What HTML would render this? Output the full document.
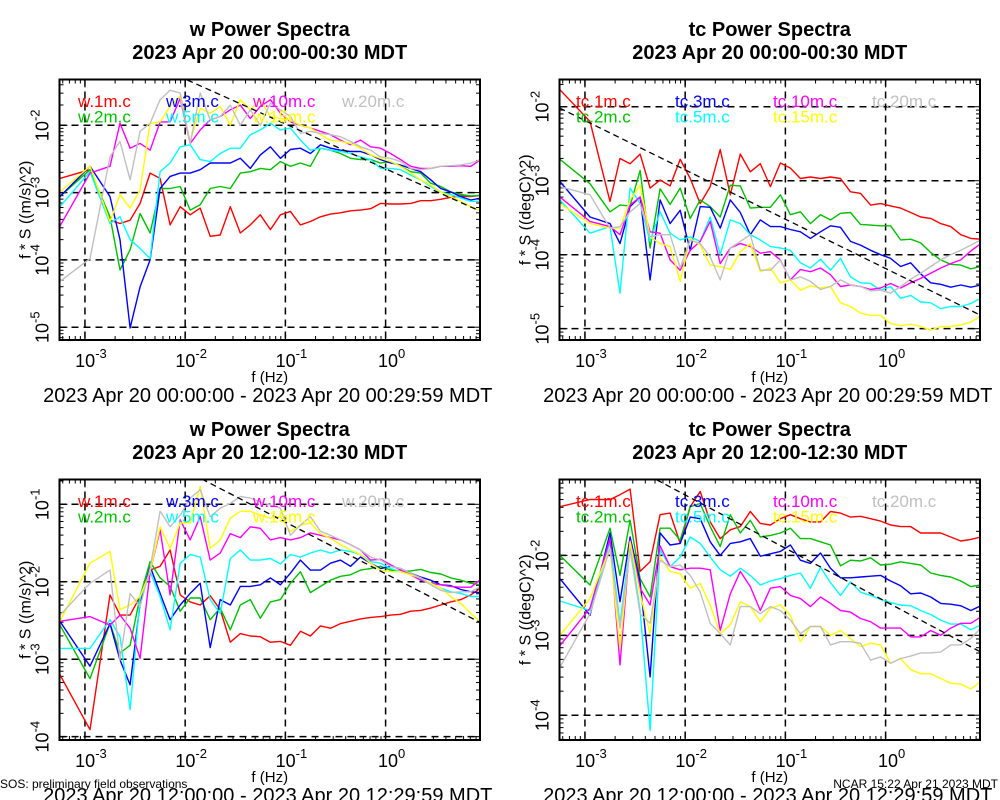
<!DOCTYPE html>
<html><head><meta charset="utf-8"><title>Power Spectra</title>
<style>
html,body{margin:0;padding:0;background:#fff;}
svg{display:block;font-family:"Liberation Sans",sans-serif;}
</style></head>
<body>
<svg id="chart" width="1000" height="800" viewBox="0 0 1000 800" xmlns="http://www.w3.org/2000/svg"></svg>
<script>
// ---- shared frequency categories (log10 Hz) ----
const freqLog = [-3.25,-2.95,-2.75,-2.65,-2.55,-2.45,-2.35,-2.25,-2.15,-2.05,-1.95,-1.85,-1.75,-1.65,-1.55,-1.45,-1.35,-1.25,-1.15,-1.05,-0.95,-0.85,-0.75,-0.65,-0.55,-0.45,-0.35,-0.25,-0.15,-0.05,0.05,0.15,0.25,0.35,0.45,0.55,0.65,0.75,0.85,0.95];
const xTickExps = [-3,-2,-1,0];
const seriesColors = ["#ff0000","#00c000","#0000ff","#00ffff","#ff00ff","#ffff00","#c0c0c0"];
const wNames = ["w.1m.c","w.2m.c","w.3m.c","w.5m.c","w.10m.c","w.15m.c","w.20m.c"];
const tcNames = ["tc.1m.c","tc.2m.c","tc.3m.c","tc.5m.c","tc.10m.c","tc.15m.c","tc.20m.c"];

// ---- top-left: w 00:00-00:30 (log10 values) ----
const wAm1 = [-2.79,-2.66,-3.41,-3.46,-3.41,-3.16,-2.71,-2.79,-3.48,-3.21,-3.33,-3.23,-3.65,-3.63,-3.21,-3.60,-3.48,-3.33,-3.55,-3.33,-3.28,-3.48,-3.43,-3.36,-3.32,-3.30,-3.27,-3.26,-3.24,-3.16,-3.17,-3.17,-3.16,-3.12,-3.12,-3.10,-3.07,-3.05,-3.06,-3.04];
const wAm2 = [-3.06,-2.66,-3.36,-4.15,-3.85,-3.31,-3.60,-2.94,-2.94,-2.91,-3.26,-3.18,-2.94,-2.91,-2.94,-2.71,-2.69,-2.64,-2.66,-2.54,-2.61,-2.56,-2.61,-2.34,-2.37,-2.42,-2.49,-2.51,-2.51,-2.56,-2.54,-2.61,-2.69,-2.71,-2.86,-2.91,-2.99,-3.03,-3.05,-3.04];
const wAm3 = [-3.06,-2.61,-3.06,-3.70,-5.01,-4.40,-4.00,-2.94,-2.76,-2.71,-2.71,-2.66,-2.56,-2.56,-2.56,-2.49,-2.64,-2.44,-2.32,-2.49,-2.36,-2.34,-2.42,-2.29,-2.34,-2.37,-2.39,-2.39,-2.44,-2.51,-2.56,-2.59,-2.64,-2.69,-2.81,-2.94,-2.99,-3.06,-3.11,-3.08];
const wAm5 = [-3.21,-2.69,-3.46,-3.36,-3.70,-3.83,-3.98,-2.69,-2.56,-2.32,-2.29,-2.51,-2.54,-2.42,-2.34,-2.34,-2.14,-2.07,-1.97,-2.07,-2.04,-2.22,-2.37,-2.34,-2.37,-2.39,-2.42,-2.47,-2.51,-2.64,-2.64,-2.66,-2.74,-2.81,-2.91,-2.99,-3.03,-3.08,-3.13,-3.13];
const wAm10 = [-3.50,-2.71,-2.61,-1.97,-2.34,-2.27,-2.37,-1.95,-1.95,-1.60,-2.27,-2.07,-1.92,-1.87,-1.77,-1.70,-1.90,-1.72,-1.62,-1.82,-1.95,-2.00,-2.04,-2.09,-2.14,-2.22,-2.29,-2.22,-2.32,-2.34,-2.42,-2.51,-2.61,-2.64,-2.64,-2.61,-2.61,-2.60,-2.61,-2.51];
const wAm15 = [-2.99,-2.61,-3.43,-3.03,-3.23,-2.96,-1.97,-1.95,-1.72,-1.57,-2.24,-1.75,-1.82,-1.72,-2.00,-1.62,-1.77,-1.62,-1.87,-1.90,-1.92,-2.00,-2.04,-2.14,-2.22,-2.24,-2.27,-2.34,-2.44,-2.49,-2.54,-2.61,-2.71,-2.81,-2.89,-2.99,-3.06,-3.13,-3.21,-3.27];
const wAm20 = [-4.32,-3.98,-2.47,-2.24,-2.81,-2.09,-1.97,-1.62,-1.48,-1.52,-2.27,-1.52,-1.92,-1.87,-1.70,-2.00,-1.77,-2.00,-1.67,-1.77,-1.87,-2.12,-2.09,-2.12,-2.14,-2.17,-2.24,-2.32,-2.37,-2.47,-2.49,-2.54,-2.64,-2.66,-2.64,-2.61,-2.60,-2.59,-2.56,-2.51];

// ---- top-right: tc 00:00-00:30 ----
const tcAm1 = [-1.77,-2.20,-3.28,-2.70,-2.77,-2.64,-3.10,-2.99,-3.07,-2.71,-2.97,-3.31,-3.08,-2.58,-3.19,-2.64,-2.88,-2.77,-3.08,-2.76,-2.83,-2.97,-2.95,-2.97,-2.95,-2.97,-3.15,-3.17,-3.33,-3.31,-3.34,-3.37,-3.43,-3.49,-3.51,-3.58,-3.62,-3.73,-3.78,-3.79];
const tcAm2 = [-2.71,-3.04,-3.42,-3.33,-3.34,-2.86,-3.91,-3.11,-3.32,-3.10,-3.51,-3.26,-3.35,-3.49,-3.06,-3.07,-3.37,-3.36,-3.36,-3.19,-3.46,-3.42,-3.58,-3.46,-3.53,-3.44,-3.43,-3.59,-3.60,-3.61,-3.61,-3.80,-3.79,-3.84,-3.97,-4.07,-4.13,-4.14,-4.19,-4.16];
const tcAm3 = [-3.01,-3.49,-3.58,-3.85,-3.35,-3.22,-4.34,-3.26,-3.58,-3.40,-3.94,-3.35,-3.36,-3.64,-3.26,-3.43,-3.73,-3.53,-3.62,-3.62,-3.66,-3.69,-3.78,-3.69,-3.61,-3.63,-3.82,-3.87,-3.94,-4.00,-4.05,-4.16,-4.11,-4.26,-4.38,-4.40,-4.44,-4.41,-4.44,-4.41];
const tcAm5 = [-3.26,-3.71,-3.62,-4.52,-3.10,-3.31,-3.82,-3.42,-3.71,-3.80,-3.76,-3.82,-3.49,-4.00,-3.53,-3.58,-3.73,-3.80,-3.89,-3.91,-3.94,-4.11,-4.18,-4.06,-4.21,-4.05,-4.30,-4.38,-4.39,-4.48,-4.43,-4.59,-4.55,-4.64,-4.65,-4.73,-4.70,-4.70,-4.66,-4.59];
const tcAm10 = [-3.22,-3.55,-3.62,-3.73,-3.33,-3.22,-3.69,-3.71,-4.07,-4.21,-3.94,-3.82,-3.55,-4.12,-3.91,-3.85,-3.89,-3.98,-3.96,-4.07,-4.34,-4.20,-4.23,-4.18,-4.27,-4.43,-4.41,-4.43,-4.47,-4.45,-4.39,-4.45,-4.38,-4.32,-4.25,-4.18,-4.12,-4.07,-3.95,-3.85];
const tcAm15 = [-3.31,-3.58,-3.64,-3.64,-3.26,-3.06,-3.76,-3.85,-3.89,-4.36,-3.78,-3.87,-4.14,-4.16,-4.20,-3.96,-3.85,-4.23,-4.18,-4.38,-4.34,-4.48,-4.42,-4.45,-4.43,-4.65,-4.70,-4.79,-4.82,-4.82,-4.93,-4.96,-4.94,-4.97,-5.02,-4.97,-4.97,-4.95,-4.91,-4.83];
const tcAm20 = [-3.08,-3.19,-3.64,-3.62,-3.42,-3.31,-3.76,-3.73,-3.73,-4.18,-3.80,-3.85,-4.03,-4.34,-3.91,-3.82,-3.73,-4.21,-4.21,-4.07,-4.34,-4.30,-4.36,-4.47,-4.43,-4.34,-4.41,-4.43,-4.49,-4.48,-4.52,-4.43,-4.33,-4.25,-4.16,-4.07,-4.00,-3.94,-3.87,-3.80];

// ---- bottom-left: w 12:00-12:30 ----
const wPm1 = [-3.20,-3.91,-2.17,-2.43,-2.43,-2.19,-1.85,-1.80,-1.59,-2.17,-2.26,-2.30,-2.18,-2.36,-2.78,-2.67,-2.70,-2.71,-2.78,-2.77,-2.82,-2.64,-2.70,-2.57,-2.60,-2.54,-2.51,-2.48,-2.46,-2.45,-2.43,-2.42,-2.38,-2.37,-2.34,-2.30,-2.26,-2.23,-2.17,-2.08];
const wPm2 = [-2.56,-3.25,-2.54,-2.92,-2.82,-2.19,-1.74,-1.95,-2.06,-2.38,-2.21,-2.21,-2.49,-2.34,-2.62,-2.30,-2.23,-2.47,-2.26,-2.23,-2.02,-1.87,-2.14,-2.06,-1.98,-1.93,-1.91,-1.85,-1.83,-1.80,-1.85,-1.87,-1.86,-1.84,-1.88,-1.90,-1.95,-1.98,-2.02,-2.04];
const wPm3 = [-2.51,-3.09,-2.54,-3.01,-3.33,-2.28,-1.80,-2.15,-2.49,-2.30,-2.15,-2.02,-2.85,-2.23,-2.30,-2.06,-2.06,-2.04,-1.95,-2.04,-1.89,-1.72,-1.85,-1.85,-1.76,-1.72,-1.80,-1.68,-1.76,-1.83,-1.80,-1.83,-1.89,-1.94,-1.98,-2.04,-2.05,-2.10,-2.13,-2.14];
const wPm5 = [-2.86,-2.86,-2.49,-2.71,-3.65,-2.21,-1.87,-2.19,-2.62,-1.76,-1.65,-1.68,-2.23,-2.41,-1.70,-1.59,-1.72,-1.72,-1.70,-1.77,-1.65,-1.68,-1.63,-1.59,-1.63,-1.59,-1.61,-1.65,-1.74,-1.76,-1.83,-1.87,-1.91,-1.97,-2.02,-2.08,-2.13,-2.15,-2.19,-2.19];
const wPm10 = [-2.51,-2.45,-2.56,-2.43,-2.60,-2.99,-1.87,-1.33,-2.17,-1.20,-1.46,-1.16,-1.72,-1.63,-1.38,-1.43,-1.29,-1.31,-1.46,-1.43,-1.46,-1.43,-1.37,-1.40,-1.43,-1.46,-1.52,-1.59,-1.72,-1.71,-1.78,-1.85,-1.91,-1.98,-2.02,-2.04,-2.06,-2.07,-2.07,-1.97];
const wPm15 = [-2.51,-1.76,-1.61,-2.36,-2.30,-2.19,-1.87,-1.29,-1.57,-1.24,-1.24,-0.77,-1.57,-1.46,-1.18,-1.09,-1.09,-1.14,-1.18,-1.16,-1.35,-1.27,-1.24,-1.38,-1.44,-1.52,-1.59,-1.65,-1.76,-1.85,-1.87,-1.87,-1.91,-1.95,-2.02,-2.08,-2.19,-2.28,-2.41,-2.52];
const wPm20 = [-2.43,-2.02,-1.85,-3.01,-2.15,-2.32,-1.83,-1.09,-1.29,-1.14,-0.92,-0.81,-1.16,-1.05,-0.99,-0.90,-0.92,-0.97,-1.01,-1.05,-1.40,-1.27,-1.16,-1.35,-1.40,-1.46,-1.52,-1.59,-1.68,-1.72,-1.80,-1.83,-1.89,-1.95,-2.04,-2.11,-2.14,-2.13,-2.13,-2.06];

// ---- bottom-right: tc 12:00-12:30 ----
const tcPm1 = [-1.39,-1.30,-1.30,-1.24,-1.17,-2.20,-2.08,-1.49,-1.47,-1.85,-1.39,-1.20,-1.58,-1.79,-1.68,-1.64,-1.45,-1.60,-1.62,-1.54,-1.49,-1.54,-1.58,-1.58,-1.45,-1.47,-1.52,-1.51,-1.54,-1.57,-1.62,-1.64,-1.64,-1.72,-1.72,-1.72,-1.77,-1.82,-1.80,-1.77];
const tcPm2 = [-2.00,-2.37,-1.66,-2.25,-1.56,-2.29,-2.52,-1.66,-1.66,-1.81,-1.39,-1.35,-1.64,-1.89,-1.49,-1.72,-1.56,-1.77,-1.75,-1.72,-1.66,-1.79,-1.79,-1.83,-1.87,-2.13,-2.06,-2.07,-2.03,-2.12,-2.11,-2.08,-2.10,-2.12,-2.22,-2.25,-2.27,-2.32,-2.39,-2.37];
const tcPm3 = [-2.29,-2.75,-1.72,-2.58,-1.77,-2.33,-3.52,-1.72,-1.87,-1.85,-1.52,-1.54,-1.83,-2.00,-1.85,-1.83,-1.79,-2.01,-1.98,-1.95,-1.87,-2.06,-2.10,-1.97,-2.16,-2.28,-2.28,-2.27,-2.26,-2.25,-2.32,-2.38,-2.48,-2.47,-2.52,-2.60,-2.61,-2.63,-2.69,-2.63];
const tcPm5 = [-2.57,-2.69,-1.83,-2.85,-1.85,-2.69,-4.19,-1.93,-2.14,-2.02,-1.77,-1.85,-2.02,-2.18,-2.26,-2.16,-2.25,-2.37,-2.32,-2.29,-2.25,-2.22,-2.41,-2.15,-2.34,-2.50,-2.33,-2.46,-2.50,-2.55,-2.59,-2.62,-2.63,-2.69,-2.74,-2.81,-2.86,-2.86,-2.93,-2.87];
const tcPm10 = [-3.13,-2.66,-1.79,-3.37,-1.81,-2.41,-2.62,-1.88,-2.14,-2.18,-2.16,-2.16,-2.18,-2.94,-2.48,-2.20,-2.39,-2.69,-2.41,-2.39,-2.50,-2.54,-2.64,-2.52,-2.60,-2.69,-2.71,-2.79,-2.83,-2.91,-2.91,-2.91,-3.02,-3.02,-2.94,-3.00,-2.91,-2.85,-2.85,-2.77];
const tcPm15 = [-3.00,-2.54,-1.91,-3.17,-1.83,-2.48,-2.98,-2.02,-2.20,-2.23,-2.41,-2.35,-2.62,-2.98,-2.87,-2.58,-2.64,-2.83,-2.66,-2.62,-2.75,-3.08,-2.89,-2.89,-3.00,-2.94,-3.04,-3.14,-3.10,-3.12,-3.35,-3.29,-3.43,-3.48,-3.48,-3.54,-3.60,-3.61,-3.67,-3.58];
const tcPm20 = [-3.40,-2.73,-1.91,-2.91,-1.93,-2.73,-2.85,-2.06,-2.14,-2.12,-2.25,-2.46,-2.85,-2.98,-3.12,-2.64,-2.64,-2.73,-2.64,-2.69,-2.81,-2.98,-2.89,-2.89,-3.12,-3.08,-3.08,-3.10,-3.31,-3.27,-3.35,-3.29,-3.26,-3.22,-3.22,-3.21,-3.12,-3.12,-3.04,-2.91];

// reference -2/3 slope lines: log10 value at f = 0.1 Hz
const refAtTenth = [-1.98, -3.52, -1.23, -1.91];
const refSlope = -2/3;

const yTicksTL = [-2,-3,-4,-5];
const yTicksTR = [-2,-3,-4,-5];
const yTicksBL = [-1,-2,-3,-4];
const yTicksBR = [-2,-3,-4];

const svg = document.getElementById('chart');
const NS = 'http://www.w3.org/2000/svg';
function mk(tag, attrs, parent) {
  const e = document.createElementNS(NS, tag);
  for (const k in attrs) e.setAttribute(k, attrs[k]);
  (parent || svg).appendChild(e);
  return e;
}

const wLegendCols = [18.5, 106.5, 193.5, 282.5];
const tcLegendCols = [16.5, 115.5, 213.5, 312.5];

const panels = [
  {id:'tl', names:wNames, cols:wLegendCols, series:[wAm1,wAm2,wAm3,wAm5,wAm10,wAm15,wAm20], left:59.5, right:480, top:79.5, bottom:340, ymin:-5.19, ymax:-1.32, yt:yTicksTL, ref:refAtTenth[0], t1:'w Power Spectra', t2:'2023 Apr 20 00:00-00:30 MDT', ylab:'f * S ((m/s)^2)', range:'2023 Apr 20 00:00:00 - 2023 Apr 20 00:29:59 MDT'},
  {id:'tr', names:tcNames, cols:tcLegendCols, series:[tcAm1,tcAm2,tcAm3,tcAm5,tcAm10,tcAm15,tcAm20], left:559.5, right:980, top:79.5, bottom:340, ymin:-5.153, ymax:-1.632, yt:yTicksTR, ref:refAtTenth[1], t1:'tc Power Spectra', t2:'2023 Apr 20 00:00-00:30 MDT', ylab:'f * S ((degC)^2)', range:'2023 Apr 20 00:00:00 - 2023 Apr 20 00:29:59 MDT'},
  {id:'bl', names:wNames, cols:wLegendCols, series:[wPm1,wPm2,wPm3,wPm5,wPm10,wPm15,wPm20], left:59.5, right:480, top:479.5, bottom:740, ymin:-4.043, ymax:-0.68, yt:yTicksBL, ref:refAtTenth[2], t1:'w Power Spectra', t2:'2023 Apr 20 12:00-12:30 MDT', ylab:'f * S ((m/s)^2)', range:'2023 Apr 20 12:00:00 - 2023 Apr 20 12:29:59 MDT'},
  {id:'br', names:tcNames, cols:tcLegendCols, series:[tcPm1,tcPm2,tcPm3,tcPm5,tcPm10,tcPm15,tcPm20], left:559.5, right:980, top:479.5, bottom:740, ymin:-4.31, ymax:-1.05, yt:yTicksBR, ref:refAtTenth[3], t1:'tc Power Spectra', t2:'2023 Apr 20 12:00-12:30 MDT', ylab:'f * S ((degC)^2)', range:'2023 Apr 20 12:00:00 - 2023 Apr 20 12:29:59 MDT'}
];
const XMIN = -3.254, XMAX = 0.942;

panels.forEach(function(p) {
  const g = mk('g', {});
  
  
  const xs = function(l){ return p.left + (l - XMIN) / (XMAX - XMIN) * (p.right - p.left); };
  const ys = function(l){ return p.bottom - (l - p.ymin) / (p.ymax - p.ymin) * (p.bottom - p.top); };
  const cx = (p.left + p.right) / 2;

  const t1 = mk('text', {x:cx, y:p.top - 43.5, 'text-anchor':'middle', 'font-size':20, 'font-weight':'bold'}, g);
  t1.textContent = p.t1;
  
  
  const t2 = mk('text', {x:cx, y:p.top - 20.5, 'text-anchor':'middle', 'font-size':20, 'font-weight':'bold'}, g);
  t2.textContent = p.t2;
  
  

  const clipId = 'clip-' + p.id;
  const cp = mk('clipPath', {id:clipId}, g);
  mk('rect', {x:p.left, y:p.top, width:p.right - p.left, height:p.bottom - p.top}, cp);

  // minor ticks
  const tk = mk('g', {stroke:'#000', 'stroke-width':1}, g);
  
  
  for (let d = -4; d <= 1; d++) {
    for (let m = 1; m <= 9; m++) {
      const l = d + Math.log10(m);
      if (l < XMIN || l > XMAX) continue;
      const x = xs(l), len = m === 1 ? 8 : 4;
      mk('line', {x1:x, x2:x, y1:p.bottom, y2:p.bottom - len}, tk);
      mk('line', {x1:x, x2:x, y1:p.top, y2:p.top + len}, tk);
    }
  }
  for (let d = -6; d <= 0; d++) {
    for (let m = 1; m <= 9; m++) {
      const l = d + Math.log10(m);
      if (l < p.ymin || l > p.ymax) continue;
      const y = ys(l), len = m === 1 ? 8 : 4;
      mk('line', {x1:p.left, x2:p.left + len, y1:y, y2:y}, tk);
      mk('line', {x1:p.right, x2:p.right - len, y1:y, y2:y}, tk);
    }
  }

  // grid
  const gr = mk('g', {stroke:'#000', 'stroke-width':1.5, 'stroke-dasharray':'7,5'}, g);
  
  
  xTickExps.forEach(function(e){
    const x = xs(e);
    mk('line', {x1:x, x2:x, y1:p.top, y2:p.bottom}, gr);
  });
  p.yt.forEach(function(e){
    const y = ys(e);
    mk('line', {x1:p.left, x2:p.right, y1:y, y2:y}, gr);
  });

  // x tick labels
  xTickExps.forEach(function(e){
    const t = mk('text', {x:xs(e) + 6, y:p.bottom + 27, 'text-anchor':'middle', 'font-size':18}, g);
    
    
    t.appendChild(document.createTextNode('10'));
    const s = mk('tspan', {dy:-9, 'font-size':13}, t);
    s.textContent = String(e);
  });
  // y tick labels
  p.yt.forEach(function(e){
    const y = ys(e);
    const lx = p.left - 11;
    const t = mk('text', {x:lx, y:y, 'text-anchor':'middle', 'font-size':18, transform:'rotate(-90 ' + lx + ' ' + y + ')'}, g);
    
    
    t.appendChild(document.createTextNode('10'));
    const s = mk('tspan', {dy:-9, 'font-size':13}, t);
    s.textContent = String(e);
  });

  // axis titles
  const xl = mk('text', {x:cx, y:p.bottom + 42, 'text-anchor':'middle', 'font-size':15}, g);
  xl.textContent = 'f (Hz)';
  
  
  const ymid = (p.top + p.bottom) / 2;
  const yl = mk('text', {x:p.left - 29, y:ymid, 'text-anchor':'middle', 'font-size':16, transform:'rotate(-90 ' + (p.left - 29) + ' ' + ymid + ')'}, g);
  yl.textContent = p.ylab;
  
  
  const rl = mk('text', {x:cx - 2, y:p.bottom + 62, 'text-anchor':'middle', 'font-size':20}, g);
  rl.textContent = p.range;
  
  

  // series
  const sg = mk('g', {'clip-path':'url(#' + clipId + ')', fill:'none', 'stroke-width':1.4, 'stroke-linejoin':'round'}, g);
  p.series.forEach(function(vals, si){
    const n = Math.min(vals.length, freqLog.length);
    let d = '';
    for (let i = 0; i < n; i++) d += (i ? 'L' : 'M') + xs(freqLog[i]).toFixed(1) + ',' + ys(vals[i]).toFixed(1);
    const path = mk('path', {d:d, stroke:seriesColors[si]}, sg);
    
    
  });
  // reference slope line
  const rline = mk('line', {x1:xs(XMIN), y1:ys(p.ref + refSlope * (XMIN + 1)), x2:xs(XMAX), y2:ys(p.ref + refSlope * (XMAX + 1)), stroke:'#000', 'stroke-width':1.3, 'stroke-dasharray':'6,4'}, sg);
  
  

  // legend
  p.names.forEach(function(nm, si){
    let c, r;
    if (si === 6) { c = 3; r = 0; } else { c = Math.floor(si / 2); r = si % 2; }
    const lt = mk('text', {x:p.left + p.cols[c], y:p.top + 27.5 + r * 15.5, 'font-size':17, fill:seriesColors[si]}, g);
    lt.textContent = nm;
    
    
  });

  // frame
  const fr = mk('rect', {x:p.left, y:p.top, width:p.right - p.left, height:p.bottom - p.top, fill:'none', stroke:'#000', 'stroke-width':2}, g);
  
  
});

const f1 = mk('text', {x:0, y:788, 'font-size':12});
f1.textContent = 'SOS: preliminary field observations';


const f2 = mk('text', {x:998, y:788, 'font-size':12, 'text-anchor':'end'});
f2.textContent = 'NCAR 15:22 Apr 21 2023 MDT';


</script>
</body></html>
